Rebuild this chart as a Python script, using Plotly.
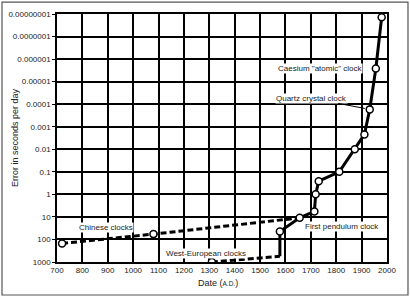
import math
import plotly.graph_objects as go

# Data
chinese_years = [720, 1080, 1656]
chinese_err = [150, 58, 11]

west_dash_years = [1310, 1578]
west_dash_err = [1000, 560]

main_years = [1578, 1578, 1656, 1714, 1719, 1731, 1812, 1873, 1911, 1932, 1956, 1979]
main_err = [560, 44, 11, 5.7, 1.0, 0.26, 0.1, 0.01, 0.0022, 0.00017, 0.0000026, 0.000000014]

marker_years = [720, 1080, 1310, 1578, 1656, 1714, 1719, 1731, 1812, 1873, 1911, 1932, 1956, 1979]
marker_err = [150, 58, 1000, 44, 11, 5.7, 1.0, 0.26, 0.1, 0.01, 0.0022, 0.00017, 0.0000026, 0.000000014]

y_tickvals = [1e3, 1e2, 1e1, 1, 1e-1, 1e-2, 1e-3, 1e-4, 1e-5, 1e-6, 1e-7, 1e-8]
y_ticktext = ["1000", "100", "10", "1", "0.1", "0.01", "0.001", "0.0001",
              "0.00001", "0.000001", "0.0000001", "0.00000001"]
x_tickvals = list(range(700, 2001, 100))

FONT = "Liberation Sans, Arial, sans-serif"

fig = go.Figure()
fig.add_trace(go.Scatter(x=chinese_years, y=chinese_err, mode="lines",
                         line=dict(color="black", width=3, dash="6px,3px"),
                         hoverinfo="skip"))
fig.add_trace(go.Scatter(x=west_dash_years, y=west_dash_err, mode="lines",
                         line=dict(color="black", width=3, dash="6px,3px"),
                         hoverinfo="skip"))
fig.add_trace(go.Scatter(x=main_years, y=main_err, mode="lines",
                         line=dict(color="black", width=3),
                         hoverinfo="skip"))
fig.add_trace(go.Scatter(x=marker_years, y=marker_err, mode="markers",
                         marker=dict(size=7, color="white",
                                     line=dict(color="black", width=1.5)),
                         hoverinfo="skip"))

lab_font = dict(family=FONT, size=8, color="#222")
annotations = [
    dict(x=893, y=math.log10(29), text="Chinese clocks", showarrow=False,
         bgcolor="white", font=lab_font, borderpad=0),
    dict(x=1287, y=math.log10(400), text="West-European clocks", showarrow=False,
         bgcolor="white", font=lab_font, borderpad=0),
    dict(x=1823, y=math.log10(26), text="First pendulum clock", showarrow=False,
         bgcolor="white", font=lab_font, borderpad=0),
    dict(x=1736, y=math.log10(2.5e-6), text="Caesium \"atomic\" clock", showarrow=False,
         bgcolor="white", font=lab_font, borderpad=0),
    dict(x=1932, y=math.log10(0.00017), ax=-58, ay=-11,
         text="Quartz crystal clock", showarrow=True, arrowhead=0,
         arrowwidth=1, arrowcolor="black", standoff=5,
         bgcolor="white", font=lab_font, borderpad=0),
    dict(xref="paper", yref="paper", x=-0.127, y=0.5, textangle=-90,
         xanchor="center", yanchor="middle",
         text="Error in seconds per day", showarrow=False,
         font=dict(family=FONT, size=9, color="#222")),
    dict(xref="paper", yref="paper", x=0.488, y=-0.085,
         xanchor="center", yanchor="middle",
         text="Date (<span style='font-size:6.5px'>A.D.</span>)", showarrow=False,
         font=dict(family=FONT, size=9, color="#222")),
]

fig.update_layout(
    width=410, height=297,
    margin=dict(l=57, r=23, t=14, b=35, autoexpand=False),
    paper_bgcolor="white", plot_bgcolor="white",
    showlegend=False,
    font=dict(family=FONT, size=8, color="#222"),
    annotations=annotations,
    shapes=[dict(type="rect", xref="paper", yref="paper",
                 x0=-0.1667, x1=1.0636, y0=-0.133, y1=1.048,
                 line=dict(color="#555", width=1.2), layer="below")],
    xaxis=dict(range=[700, 2000], tickvals=x_tickvals, automargin=False,
               showgrid=True, gridcolor="black", gridwidth=1.5,
               showline=True, linecolor="black", linewidth=1.5, mirror=True,
               zeroline=False, ticks="", tickfont=dict(size=8)),
    yaxis=dict(type="log", range=[3, -8], tickvals=y_tickvals, ticktext=y_ticktext,
               automargin=False,
               showgrid=True, gridcolor="black", gridwidth=1.5,
               showline=True, linecolor="black", linewidth=1.5, mirror=True,
               zeroline=False, ticks="outside", ticklen=3, tickcolor="black",
               tickfont=dict(size=8)),
)

fig.write_html("out.html")
